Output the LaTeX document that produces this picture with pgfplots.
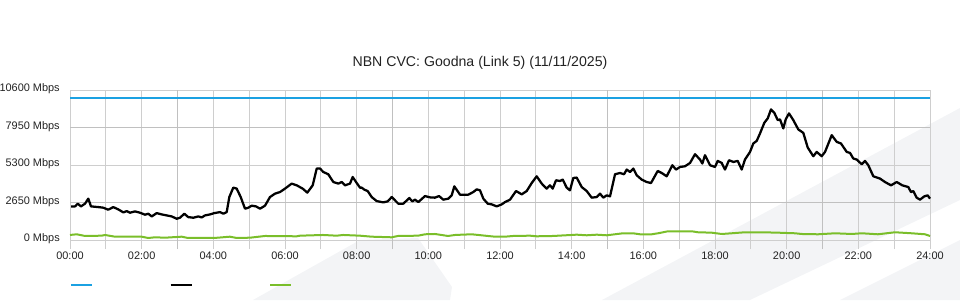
\documentclass[border=0pt]{standalone}
\usepackage{fontspec}
\setmainfont{Liberation Sans}
\usepackage{pgfplots}
\pgfplotsset{compat=1.18}
\definecolor{cvcblue}{RGB}{27,161,226}
\definecolor{cvcgreen}{RGB}{122,190,42}
\definecolor{gridthin}{RGB}{206,206,206}
\definecolor{gridthick}{RGB}{192,192,192}
\definecolor{wm}{RGB}{243,244,246}
\definecolor{labelc}{RGB}{34,34,34}
\begin{document}
\begin{tikzpicture}
\path[use as bounding box] (0,0) rectangle (720pt,225pt);
\begin{scope}[x=0.75pt,y=0.75pt]
\fill[wm] (602,0) -- (960,192) -- (960,100) -- (750,0) -- cycle;
\fill[wm] (840,0) -- (960,60) -- (960,0) -- cycle;
\fill[wm] (253,0) -- (360,60) -- (418,62) -- (452,13) -- (450,0) -- cycle;
\end{scope}
\begin{axis}[
  at={(52.5pt,38.25pt)}, anchor=south west,
  scale only axis, width=645pt, height=119.25pt,
  xmin=0, xmax=24, ymin=-636, ymax=10600,
  scaled y ticks=false,
  axis line style={draw=none},
  tick style={draw=none},
  xtick={0,2,...,24},
  xticklabels={00:00,02:00,04:00,06:00,08:00,10:00,12:00,14:00,16:00,18:00,20:00,22:00,24:00},
  minor xtick={1,3,...,23},
  ytick={0,2650,5300,7950,10600},
  yticklabels={0 Mbps,2650 Mbps,5300 Mbps,7950 Mbps,10600 Mbps},
  extra x ticks={3,9,15,21}, extra x tick labels={},
  extra y ticks={2650,7950}, extra y tick labels={},
  extra tick style={grid=major, major grid style={gridthick, line width=1.4pt}},
  grid=both,
  major grid style={gridthin, line width=0.75pt},
  minor grid style={gridthin, line width=0.75pt},
  ticklabel style={font=\fontsize{8.2}{10}\selectfont, text=labelc},
  xticklabel style={anchor=north, inner sep=0pt, yshift=-2.3pt},
  yticklabel style={anchor=east, inner sep=0pt, xshift=-7.5pt, yshift=0.7pt},
  title={NBN CVC: Goodna (Link 5) (11/11/2025)},
  title style={at={(0.5,1)}, anchor=center, yshift=14.25pt, xshift=-15pt,
    font=\fontsize{10.6}{12}\selectfont, inner sep=0pt, text=labelc},
  legend style={at={(0,0)}, anchor=west, yshift=-27pt, draw=none, fill=none,
    inner sep=0pt, outer sep=0pt, legend columns=3,
    nodes={inner sep=0pt, outer sep=0pt},
    /tikz/every even column/.style={column sep=0pt},
    /tikz/every odd column/.style={column sep=0pt}},
  legend image code/.code={\draw[#1] (0pt,0pt) -- (15.75pt,0pt);},
  clip=false,
]
\addplot[cvcblue, line width=1.5pt] coordinates {(0,10000) (24,10000)};
\addlegendentry{\hspace*{57.4pt}}
\addplot[black, line width=1.7pt, line join=round] coordinates {
(0.028,2375)(0.14,2375)(0.215,2567)(0.307,2375)(0.419,2567)(0.511,2921)(0.586,2375)
(0.79,2326)(0.929,2283)(1.069,2141)(1.208,2326)(1.348,2162)(1.488,1950)(1.582,2042)
(1.674,1928)(1.814,2021)(1.953,1928)(2.093,1787)(2.185,1858)(2.28,1666)(2.42,1900)
(2.559,1808)(2.699,1737)(2.838,1666)(2.978,1503)(3.07,1574)(3.19,1858)(3.301,1617)
(3.441,1574)(3.581,1666)(3.675,1595)(3.767,1737)(3.907,1808)(4.027,1900)(4.186,1971)
(4.278,1858)(4.373,1971)(4.446,3035)(4.557,3701)(4.652,3630)(4.764,3035)(4.884,2212)
(4.976,2283)(5.071,2425)(5.191,2375)(5.302,2212)(5.442,2425)(5.581,3035)(5.721,3276)
(5.861,3389)(6.0,3630)(6.187,3985)(6.327,3864)(6.494,3630)(6.622,3346)(6.773,3864)
(6.885,5048)(6.977,5048)(7.069,4807)(7.208,4644)(7.348,4098)(7.488,3985)(7.582,4098)
(7.674,3864)(7.814,3985)(7.889,4453)(8.001,4027)(8.093,3701)(8.14,3701)(8.213,3559)
(8.308,3460)(8.419,3035)(8.559,2751)(8.743,2659)(8.866,2730)(8.978,3035)(9.162,2567)
(9.301,2567)(9.469,2964)(9.553,2730)(9.628,2850)(9.72,2680)(9.907,3105)(10.047,3013)
(10.186,2992)(10.298,3105)(10.418,2850)(10.557,2921)(10.652,3155)(10.725,3793)(10.884,3205)
(11.116,3205)(11.255,3389)(11.35,3580)(11.442,3510)(11.535,2921)(11.657,2567)(11.769,2517)
(11.908,2375)(12.048,2517)(12.14,2680)(12.279,2850)(12.447,3460)(12.606,3226)(12.745,3460)
(12.885,4027)(13.024,4502)(13.164,3985)(13.303,3630)(13.395,3864)(13.471,3630)(13.563,4219)
(13.675,4169)(13.75,4268)(13.861,3701)(13.953,3510)(14.046,4382)(14.14,4410)(14.28,3744)
(14.42,3460)(14.559,2992)(14.699,3035)(14.791,3276)(14.883,2992)(14.978,3155)(15.07,3084)
(15.21,4644)(15.349,4736)(15.461,4644)(15.536,4977)(15.628,4807)(15.72,5048)(15.815,4573)
(15.955,4268)(16.094,4098)(16.214,4027)(16.401,4878)(16.513,4736)(16.652,4502)(16.809,5282)
(16.912,4977)(17.024,5162)(17.163,5211)(17.303,5445)(17.442,6062)(17.582,5686)(17.646,5403)
(17.721,5991)(17.861,5282)(18.0,5162)(18.076,5587)(18.187,5445)(18.279,4977)(18.391,5637)
(18.511,5516)(18.634,5587)(18.745,4977)(18.837,5686)(18.977,6225)(19.069,6821)(19.164,7005)
(19.256,7530)(19.376,8281)(19.471,8593)(19.563,9231)(19.655,8990)(19.75,8473)(19.814,8522)
(19.906,7884)(19.973,8522)(20.065,8948)(20.185,8473)(20.325,7813)(20.464,7572)(20.587,6537)
(20.743,5920)(20.838,6225)(20.977,5920)(21.07,6225)(21.257,7409)(21.396,6934)(21.516,6821)
(21.675,6225)(21.767,6154)(21.86,5757)(21.954,5686)(22.094,5353)(22.186,5587)(22.278,5282)
(22.418,4502)(22.605,4339)(22.744,4098)(22.912,3864)(23.071,4098)(23.226,3864)(23.394,3744)
(23.469,3389)(23.533,3460)(23.628,2992)(23.72,2850)(23.84,3084)(23.935,3155)(24.0,2921)
};
\addlegendentry{\hspace*{57.4pt}}
\addplot[cvcgreen, line width=1.5pt, line join=round] coordinates {
(0,355)(0.187,404)(0.419,284)(0.885,305)(0.977,355)(1.256,234)(2.0,234)(2.185,142)
(2.372,191)(2.651,163)(3.117,234)(3.293,142)(4.019,142)(4.465,234)(4.652,142)(5.023,163)
(5.442,284)(6.327,262)(6.419,305)(7.061,355)(7.443,305)(7.619,355)(8.093,305)(8.42,234)
(8.978,191)(9.154,284)(9.712,305)(9.907,404)(10.186,425)(10.549,284)(10.744,355)(11.21,404)
(11.665,284)(11.86,234)(12.14,234)(12.363,284)(12.837,305)(13.024,262)(13.479,284)(14.14,376)
(14.42,333)(14.699,376)(14.978,333)(15.433,475)(15.712,475)(15.907,404)(16.234,404)(16.41,475)
(16.689,617)(17.35,617)(17.526,546)(17.908,518)(18.187,425)(18.466,475)(18.837,546)(19.303,546)
(19.758,518)(20.233,475)(20.42,425)(20.875,404)(21.349,475)(21.815,425)(22.094,475)(22.549,404)
(23.023,546)(23.489,475)(23.86,404)(24.0,284)
};
\addlegendentry{\hspace*{57.4pt}}
\end{axis}
\end{tikzpicture}
\end{document}
